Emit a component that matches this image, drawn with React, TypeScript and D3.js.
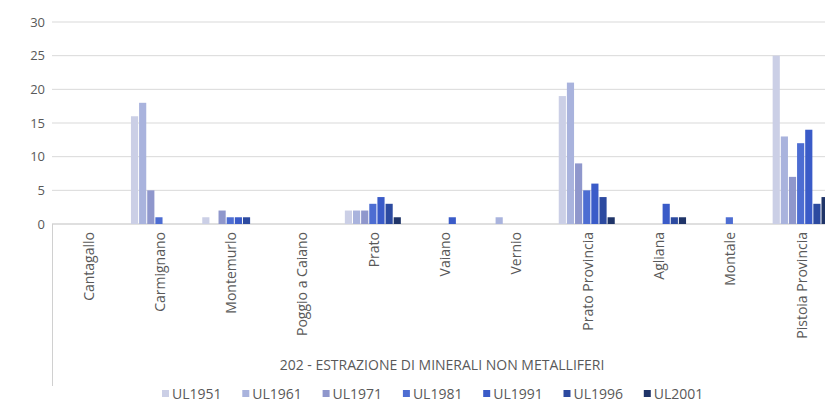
import React, { useEffect, useRef } from "react";
import * as d3 from "d3";

const categories = [
  "Cantagallo",
  "Carmignano",
  "Montemurlo",
  "Poggio a Caiano",
  "Prato",
  "Vaiano",
  "Vernio",
  "Prato Provincia",
  "Agliana",
  "Montale",
  "Pistoia Provincia",
];
const seriesNames = ["UL1951", "UL1961", "UL1971", "UL1981", "UL1991", "UL1996", "UL2001"];
const UL1951 = [0, 16, 1, 0, 2, 0, 0, 19, 0, 0, 25];
const UL1961 = [0, 18, 0, 0, 2, 0, 1, 21, 0, 0, 13];
const UL1971 = [0, 5, 2, 0, 2, 0, 0, 9, 0, 0, 7];
const UL1981 = [0, 1, 1, 0, 3, 0, 0, 5, 0, 1, 12];
const UL1991 = [0, 0, 1, 0, 4, 1, 0, 6, 3, 0, 14];
const UL1996 = [0, 0, 1, 0, 3, 0, 0, 4, 1, 0, 3];
const UL2001 = [0, 0, 0, 0, 1, 0, 0, 1, 1, 0, 4];
const seriesValues = [UL1951, UL1961, UL1971, UL1981, UL1991, UL1996, UL2001];
const colors = ["#cbcfe6", "#a9b3dd", "#8f97cc", "#4d6dd2", "#3a5bc8", "#2c4aa0", "#1f3468"];
const yTicks = [0, 5, 10, 15, 20, 25, 30];
const groupTitle = "202 - ESTRAZIONE DI MINERALI NON METALLIFERI";

const W = 825;
const H = 409;
const FONT = "'Open Sans', Lato, sans-serif";

export default function App() {
  const ref = useRef<SVGSVGElement>(null);
  useEffect(() => {
    const svg = d3.select(ref.current);
    svg.selectAll("*").remove();
    const left = 52;
    const step = 71.3;
    const x = d3.scaleBand<string>().domain(categories).range([left, left + step * categories.length]).padding(0);
    const xs = d3.scaleBand<string>().domain(seriesNames).range([0, step]).paddingInner(0.12).paddingOuter(0.94);
    const y = d3.scaleLinear().domain([0, 30]).range([224, 22]);

    // gridlines
    svg.append("g")
      .selectAll("line")
      .data(yTicks)
      .join("line")
      .attr("x1", left)
      .attr("x2", W)
      .attr("y1", (d) => y(d))
      .attr("y2", (d) => y(d))
      .attr("stroke", (d) => (d === 0 ? "#bfbfbf" : "#d9d9d9"))
      .attr("stroke-width", 1);

    // y labels
    svg.append("g")
      .selectAll("text")
      .data(yTicks)
      .join("text")
      .attr("x", 45)
      .attr("y", (d) => y(d))
      .attr("dy", "0.35em")
      .attr("text-anchor", "end")
      .attr("font-family", FONT)
      .attr("font-size", 13)
      .attr("fill", "#595959")
      .text((d) => String(d));

    // bars
    seriesNames.forEach((s, si) => {
      svg.append("g")
        .selectAll("rect")
        .data(categories.map((c, ci) => ({ c, v: seriesValues[si][ci] })))
        .join("rect")
        .attr("x", (d) => (x(d.c) as number) + (xs(s) as number))
        .attr("width", xs.bandwidth())
        .attr("y", (d) => y(d.v))
        .attr("height", (d) => y(0) - y(d.v))
        .attr("fill", colors[si]);
    });

    // axis vertical line (multi-level)
    svg.append("line")
      .attr("x1", left + 0.5)
      .attr("x2", left + 0.5)
      .attr("y1", y(0))
      .attr("y2", 386)
      .attr("stroke", "#d0d0d0");

    // category labels
    svg.append("g")
      .selectAll("text")
      .data(categories)
      .join("text")
      .attr("transform", (d) => `translate(${(x(d) as number) + x.bandwidth() / 2 + 1},232) rotate(-90)`)
      .attr("text-anchor", "end")
      .attr("dy", "0.35em")
      .attr("font-family", FONT)
      .attr("font-size", 14)
      .attr("fill", "#595959")
      .text((d) => d);

    // group title
    svg.append("text")
      .attr("x", 442)
      .attr("y", 370)
      .attr("text-anchor", "middle")
      .attr("font-family", FONT)
      .attr("font-size", 14)
      .attr("fill", "#595959")
      .text(groupTitle);

    // legend
    const lg = svg.append("g");
    const lx0 = 162;
    const lstep = 80.3;
    seriesNames.forEach((s, i) => {
      const gx = lx0 + i * lstep;
      lg.append("rect")
        .attr("x", gx)
        .attr("y", 390)
        .attr("width", 7)
        .attr("height", 7)
        .attr("fill", colors[i]);
      lg.append("text")
        .attr("x", gx + 10)
        .attr("y", 394)
        .attr("dy", "0.35em")
        .attr("font-family", FONT)
        .attr("font-size", 14)
        .attr("fill", "#595959")
        .text(s);
    });
  }, []);
  return (
    <svg
      ref={ref}
      width={W}
      height={H}
      style={{ position: "absolute", left: 0, top: 0, background: "#fff" }}
    />
  );
}
